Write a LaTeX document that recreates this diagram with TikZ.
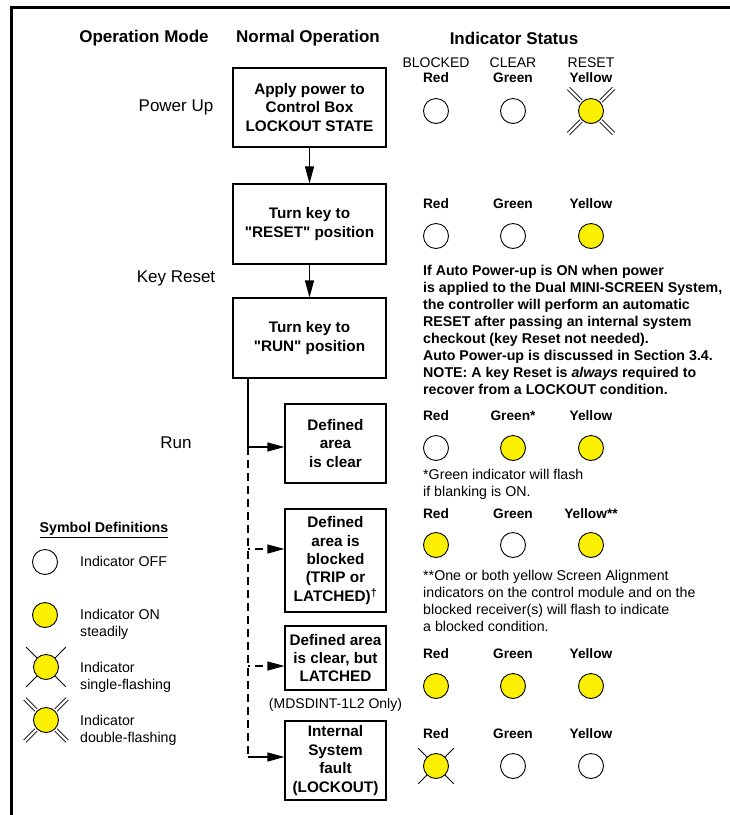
\documentclass[tikz,border=0pt]{standalone}
\usepackage{fontspec}
\setmainfont{Liberation Sans}[Ligatures=TeXOff]
\usetikzlibrary{arrows.meta}
\definecolor{yel}{RGB}{250,240,0}
\begin{document}
\begin{tikzpicture}[x=1pt,y=-1pt,
  hdr/.style={font=\fontsize{17}{20}\selectfont\bfseries, inner sep=0pt},
  mode/.style={font=\fontsize{17}{20}\selectfont, inner sep=0pt},
  box/.style={draw, line width=1.1pt, align=center, inner sep=0pt, font=\fontsize{15.3}{18.4}\selectfont\bfseries},
  lab/.style={font=\fontsize{13.7}{16}\selectfont\bfseries, inner sep=0pt},
  capt/.style={font=\fontsize{14}{16}\selectfont, inner sep=0pt},
  ind/.style={circle, draw, line width=0.9pt, minimum size=25pt, inner sep=0pt, fill=white},
  on/.style={ind, fill=yel},
  txt/.style={align=left, inner sep=0pt, font=\fontsize{14.2}{17}\selectfont},
  btxt/.style={txt, font=\fontsize{14.2}{17}\selectfont\bfseries},
  arr/.style={-{Triangle[length=17pt,width=9pt]}, line width=1.1pt},
  dsh/.style={line width=1.1pt, dash pattern=on 8pt off 5pt},
  pics/sflash/.style={code={\foreach \a in {45,135,225,315} \draw[line width=0.8pt] (\a:12.5) -- (\a:#1);}},
  pics/dflash/.style={code={\foreach \a in {45,135,225,315} {\begin{scope}[rotate=\a]\draw[line width=0.7pt] (14,1.7) -- (#1,1.7); \draw[line width=0.7pt] (14,-1.7) -- (#1,-1.7);\end{scope}}}}
]
\useasboundingbox (0,0) rectangle (730,815);
% frame
\draw[line width=3pt] (11.5,830) -- (11.5,7.5) -- (745,7.5);

% headers
\node[hdr] (hmode) at (144,38) {Operation Mode};
\node[hdr] (hnorm) at (308,38) {Normal Operation};
\node[hdr] (hind) at (514,38) {Indicator Status};

% operation modes
\node[mode] (mpow) at (176,107) {Power Up};
\node[mode] (mkey) at (176,278) {Key Reset};
\node[mode] (mrun) at (176,443) {Run};

% boxes
\node[box, minimum width=153pt, minimum height=79pt] (b1) at (309.5,107.5) {Apply power to\\Control Box\\LOCKOUT STATE};
\node[box, minimum width=153pt, minimum height=80pt] (b2) at (309.5,224) {Turn key to\\"RESET" position};
\node[box, minimum width=153pt, minimum height=80pt] (b3) at (309.5,338) {Turn key to\\"RUN" position};
\node[box, minimum width=101pt, minimum height=79pt] (b4) at (335.5,443.5) {Defined\\area\\is clear};
\node[box, minimum width=101pt, minimum height=103pt] (b5) at (335.5,560.5) {Defined\\area is\\blocked\\(TRIP or\\LATCHED)\textsuperscript{†}};
\node[box, minimum width=101pt, minimum height=64pt] (b6) at (335.5,658) {Defined area\\is clear, but\\LATCHED};
\node[box, minimum width=101pt, minimum height=79pt] (b7) at (335.5,760.5) {Internal\\System\\fault\\(LOCKOUT)};
\node[capt] (only) at (335.5,705) {(MDSDINT-1L2 Only)};

% connectors
\draw[arr] (b1) -- (b2);
\draw[arr] (b2) -- (b3);
\coordinate (s1) at (248,447);
\coordinate (s2) at (248,549);
\coordinate (s3) at (248,666);
\coordinate (s4) at (248,757);
\draw[line width=1.1pt] (s1 |- b3.south) -- (s1);
\draw[dsh] (s1) -- (s4);
\draw[arr] (s1) -- (s1 -| b4.west);
\draw[arr, dsh, dash phase=6pt] (s2) -- (s2 -| b5.west);
\draw[arr, dsh, dash phase=6pt] (s3) -- (s3 -| b6.west);
\draw[arr] (s4) -- (s4 -| b7.west);

% indicator row 1
\node[capt] (t1a) at (436,63) {BLOCKED};
\node[capt] (t1b) at (513,63) {CLEAR};
\node[capt] (t1c) at (591,63) {RESET};
\node[lab] (l1a) at (436,78) {Red};
\node[lab] (l1b) at (513,78) {Green};
\node[lab] (l1c) at (591,78) {Yellow};
\node[ind] (c1a) at (436,111) {};
\node[ind] (c1b) at (513,111) {};
\pic at (591,111) {dflash=32};
\node[on] (c1c) at (591,111) {};

% row 2
\node[lab] (l2a) at (436,204) {Red};
\node[lab] (l2b) at (513,204) {Green};
\node[lab] (l2c) at (591,204) {Yellow};
\node[ind] (c2a) at (436,236) {};
\node[ind] (c2b) at (513,236) {};
\node[on] (c2c) at (591,236) {};
\node[btxt, anchor=north west] (note0) at (423,265.5) {If Auto Power-up is ON when power\\is applied to the Dual MINI-SCREEN System,\\the controller will perform an automatic\\RESET after passing an internal system\\checkout (key Reset not needed).\\Auto Power-up is discussed in Section 3.4.\\NOTE: A key Reset is \textit{always} required to\\recover from a LOCKOUT condition.};

% row 4
\node[lab] (l4a) at (436,416) {Red};
\node[lab] (l4b) at (513,416) {Green*};
\node[lab] (l4c) at (591,416) {Yellow};
\node[ind] (c4a) at (436,448) {};
\node[on] (c4b) at (513,448) {};
\node[on] (c4c) at (591,448) {};
\node[txt, anchor=north west] (note1) at (423,468.7) {*Green indicator will flash\\if blanking is ON.};

% row 5
\node[lab] (l5a) at (436,514) {Red};
\node[lab] (l5b) at (513,514) {Green};
\node[lab] (l5c) at (591,514) {Yellow**};
\node[on] (c5a) at (436,545) {};
\node[ind] (c5b) at (513,545) {};
\node[on] (c5c) at (591,545) {};
\node[txt, anchor=north west] (note2) at (423,569.7) {**One or both yellow Screen Alignment\\indicators on the control module and on the\\blocked receiver(s) will flash to indicate\\a blocked condition.};

% row 6
\node[lab] (l6a) at (436,654) {Red};
\node[lab] (l6b) at (513,654) {Green};
\node[lab] (l6c) at (591,654) {Yellow};
\node[on] (c6a) at (436,686) {};
\node[on] (c6b) at (513,686) {};
\node[on] (c6c) at (591,686) {};

% row 7
\node[lab] (l7a) at (436,734) {Red};
\node[lab] (l7b) at (513,734) {Green};
\node[lab] (l7c) at (591,734) {Yellow};
\pic at (436,766) {sflash=25};
\node[on] (c7a) at (436,766) {};
\node[ind] (c7b) at (513,766) {};
\node[ind] (c7c) at (591,766) {};

% legend
\node[font=\fontsize{14.2}{17}\selectfont\bfseries, inner sep=0pt] (ldef) at (104,530) {\underline{Symbol Definitions}};
\node[ind] (g1) at (45,562) {};
\node[txt, anchor=west] (g1t) at (80,561) {Indicator OFF};
\node[on] (g2) at (45,615) {};
\node[txt, anchor=west] (g2t) at (80,624) {Indicator ON\\steadily};
\pic at (46,667) {sflash=28};
\node[on] (g3) at (46,667) {};
\node[txt, anchor=west] (g3t) at (80,677) {Indicator\\single-flashing};
\pic at (46,720) {dflash=30};
\node[on] (g4) at (46,720) {};
\node[txt, anchor=west] (g4t) at (80,730) {Indicator\\double-flashing};
\end{tikzpicture}
\end{document}
